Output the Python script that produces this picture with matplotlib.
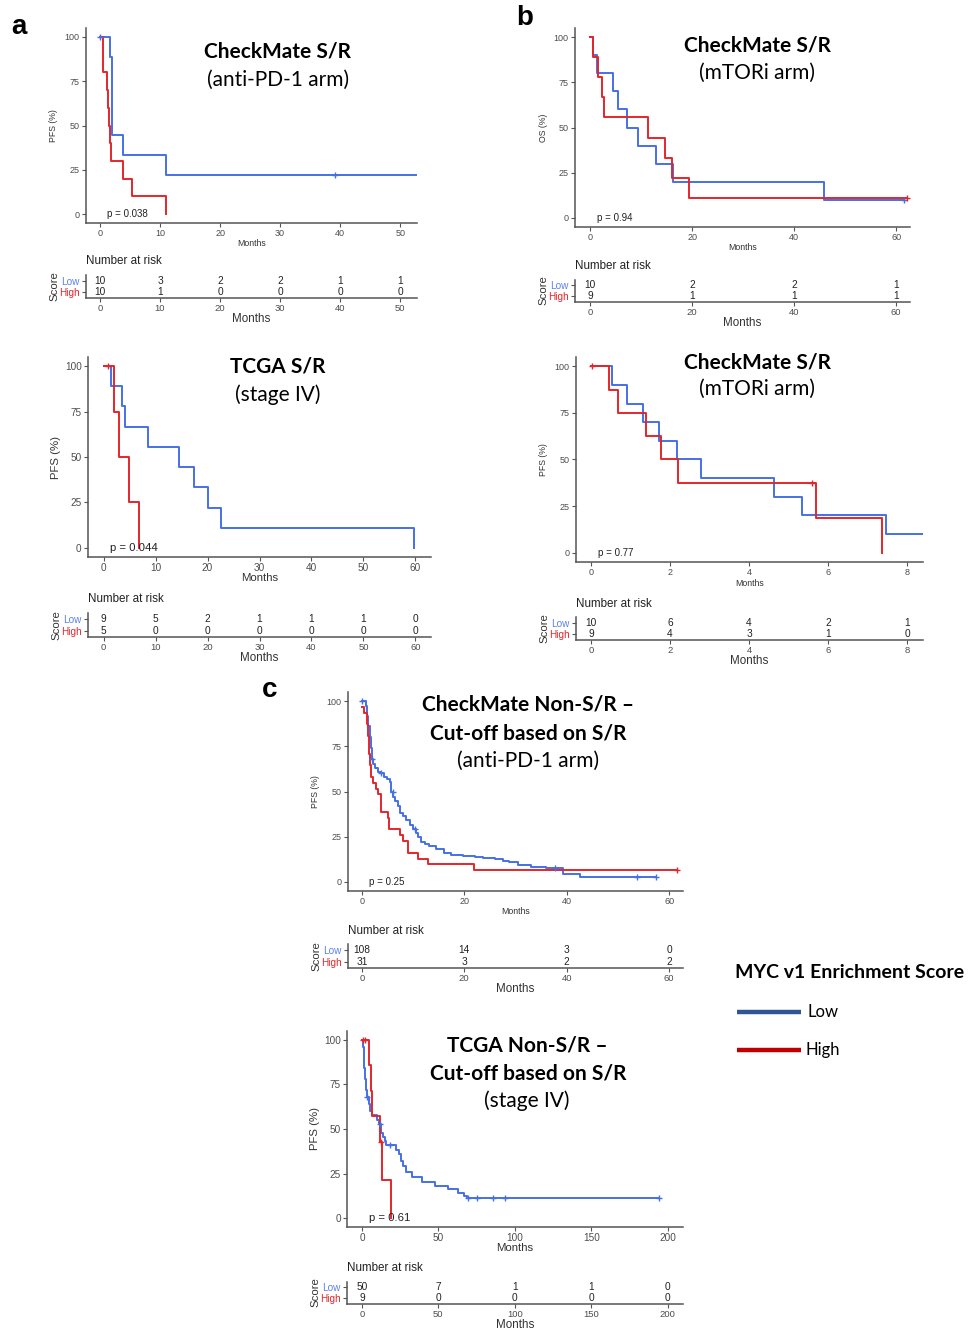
import numpy as np
import matplotlib.pyplot as plt

plt.rcParams['font.family'] = ['Liberation Sans', 'DejaVu Sans']

W, H = 973, 1331
BLUE = '#4470E6'
RED = '#E3262B'
TITLE_FONT = ['Lato', 'DejaVu Sans']

# ---- a: CheckMate S/R (anti-PD-1 arm), PFS
a1_low_t = [0, 1.6, 2.0, 3.8, 11.0]
a1_low_s = [100, 88.9, 44.4, 33.3, 22.2]
a1_low_end = 53
a1_low_cens = [0.05, 39.2]
a1_high_t = [0, 0.5, 1.1, 1.3, 1.45, 1.6, 1.8, 3.8, 5.4, 11.0]
a1_high_s = [100, 80, 70, 60, 50, 40, 30, 20, 10, 0]
a1_high_end = 11.0
a1_high_cens = []
a1_ticks = [0, 10, 20, 30, 40, 50]
a1_risk_low = [10, 3, 2, 2, 1, 1]
a1_risk_high = [10, 1, 0, 0, 0, 0]

# ---- a: TCGA S/R (stage IV), PFS
a2_low_t = [0, 1.4, 3.5, 4.2, 8.6, 14.6, 17.4, 20.0, 22.5, 59.8]
a2_low_s = [100, 88.9, 77.8, 66.7, 55.6, 44.4, 33.3, 22.2, 11.1, 0]
a2_low_end = 59.8
a2_low_cens = []
a2_high_t = [0, 2.0, 3.0, 4.8, 6.8]
a2_high_s = [100, 75, 50, 25, 0]
a2_high_end = 6.8
a2_high_cens = [0.8]
a2_ticks = [0, 10, 20, 30, 40, 50, 60]
a2_risk_low = [9, 5, 2, 1, 1, 1, 0]
a2_risk_high = [5, 0, 0, 0, 0, 0, 0]

# ---- b: CheckMate S/R (mTORi arm), OS
b1_low_t = [0, 0.65, 1.3, 4.6, 5.4, 7.3, 9.4, 12.9, 16.2, 45.8]
b1_low_s = [100, 90, 80, 70, 60, 50, 40, 30, 20, 10]
b1_low_end = 61.5
b1_low_cens = [61.5]
b1_high_t = [0, 0.65, 1.5, 2.3, 2.75, 11.3, 14.7, 16.0, 19.3]
b1_high_s = [100, 88.9, 77.8, 66.7, 55.6, 44.4, 33.3, 22.2, 11.1]
b1_high_end = 62.2
b1_high_cens = [62.2]
b1_ticks = [0, 20, 40, 60]
b1_risk_low = [10, 2, 2, 1]
b1_risk_high = [9, 1, 1, 1]

# ---- b: CheckMate S/R (mTORi arm), PFS
b2_low_t = [0, 0.52, 0.92, 1.31, 1.71, 2.17, 2.79, 4.63, 5.34, 7.47]
b2_low_s = [100, 90, 80, 70, 60, 50, 40, 30, 20, 10]
b2_low_end = 8.5
b2_low_cens = []
b2_high_t = [0, 0.46, 0.69, 1.39, 1.77, 2.2, 5.69, 7.36]
b2_high_s = [100, 87.5, 75, 62.5, 50, 37.5, 18.75, 0]
b2_high_end = 7.36
b2_high_cens = [0.02, 5.59]
b2_ticks = [0, 2, 4, 6, 8]
b2_risk_low = [10, 6, 4, 2, 1]
b2_risk_high = [9, 4, 3, 1, 0]

# ---- c: CheckMate Non-S/R (anti-PD-1 arm), PFS
c1_low_t = [0, 0.9, 1.1, 1.3, 1.5, 1.7, 1.9, 2.1, 2.6, 3.2, 3.8, 4.4, 5.0, 5.5,
            5.7, 6.1, 6.5, 7.0, 7.4, 8.0, 8.7, 9.4, 10.0, 10.6, 11.0, 11.6, 12.4,
            13.2, 14.5, 16.1, 17.5, 19.7, 22.0, 23.6, 26.0, 27.5, 28.8, 30.5,
            33.0, 36.0, 39.3, 42.6]
c1_low_s = [100, 97, 92, 86, 80, 74, 68, 65, 63, 61, 60, 58, 57, 55,
            50, 47, 45, 42, 38, 36.7, 34.4, 31.7, 29, 27, 25, 22, 21,
            20, 18, 16, 15, 14.6, 14, 13.2, 12.5, 11.8, 11.3, 9.5,
            8.5, 7.5, 4.5, 2.8]
c1_low_end = 57.5
c1_low_cens = [0.05, 1.96, 3.8, 6.0, 10.3, 37.7, 53.7, 57.5]
c1_high_t = [0, 0.5, 1.0, 1.2, 1.4, 1.6, 1.8, 2.2, 2.8, 3.2, 3.8, 5.1, 5.4,
             7.4, 8.0, 9.1, 11.0, 12.9, 21.9]
c1_high_s = [96.8, 93.5, 87.1, 80.6, 71.0, 64.5, 58.1, 54.8, 51.6, 48.4, 38.7,
             35.5, 29.0, 25.8, 22.6, 16.1, 12.9, 9.7, 6.5]
c1_high_end = 61.5
c1_high_cens = [61.5]
c1_ticks = [0, 20, 40, 60]
c1_risk_low = [108, 14, 3, 0]
c1_risk_high = [31, 3, 2, 2]

# ---- c: TCGA Non-S/R (stage IV), PFS
c2_low_t = [0, 0.5, 1, 1.5, 2, 2.5, 3, 4.5, 5.5, 6.5, 9.5, 11, 12.5, 13.5, 15,
            16, 22, 24, 25.5, 27, 28.5, 33, 39, 48, 56, 63, 67, 69]
c2_low_s = [100, 96, 90, 84, 78, 72, 68, 64, 60, 57.6, 55.3, 52.9, 48, 45.6,
            43, 41, 38.4, 35.8, 32, 29.4, 25.6, 23, 20.4, 17.9, 16.1, 14, 12.5, 11]
c2_low_end = 194
c2_low_cens = [3.3, 12.0, 18.3, 69.5, 75, 85.8, 93.5, 194]
c2_high_t = [0, 4.6, 5.6, 6.3, 12.0, 13.3, 18.7]
c2_high_s = [100, 85.7, 71.4, 57.1, 42.9, 21.4, 0]
c2_high_end = 18.7
c2_high_cens = [0.7, 2.3, 12.3]
c2_ticks = [0, 50, 100, 150, 200]
c2_risk_low = [50, 7, 1, 1, 0]
c2_risk_high = [9, 0, 0, 0, 0]

fig = plt.figure(figsize=(W / 100, H / 100), dpi=100)


def rect(l, t, r, b):
    return [l / W, 1 - b / H, (r - l) / W, (b - t) / H]


def ftext(x, y, s, **kw):
    kw.setdefault('ha', 'center')
    kw.setdefault('va', 'center')
    fig.text(x / W, 1 - y / H, s, **kw)


def step_at(t, s, x):
    i = np.searchsorted(t, x, side='right') - 1
    return np.asarray(s)[i]


def style_axis(ax, fs):
    for side in ('top', 'right'):
        ax.spines[side].set_visible(False)
    for side in ('left', 'bottom'):
        ax.spines[side].set_color('#555555')
        ax.spines[side].set_linewidth(1.1)
    ax.tick_params(length=3, width=0.8, color='#555555', labelsize=fs,
                   labelcolor='#4D4D4D', pad=1.5)


def km_panel(main_box, risk_box, xlim, ticks, low, high, risk_low, risk_high,
             ylabel, pval, titles, big=False):
    fs_tick = 7.2 if big else 6.5
    fs_lab = 8.2 if big else 6.3
    fs_p = 8.2 if big else 7.0
    l, t, r, b = main_box
    ax = fig.add_axes(rect(*main_box))
    for (tt, ss, end, cens), col in ((low, BLUE), (high, RED)):
        ax.step(np.r_[tt, end], np.r_[ss, ss[-1]], where='post', color=col,
                lw=1.4, zorder=3)
        if cens:
            ax.plot(cens, step_at(tt, ss, cens), '+', color=col, ms=5,
                    mew=1.0, zorder=4)
    ax.set_xlim(xlim)
    ax.set_ylim(-5, 105)
    ax.set_xticks(ticks)
    ax.set_yticks([0, 25, 50, 75, 100])
    style_axis(ax, fs_tick)
    ax.text(ticks[-1] * 0.022, 0, pval, ha='left', va='center', fontsize=fs_p,
            color='#222222')
    ftext((l + r) / 2, b + 21, 'Months', fontsize=fs_lab, color='#333333')
    ftext(l - 32, (t + b) / 2, ylabel, fontsize=fs_lab, rotation=90,
          color='#333333')
    for (x, y, s, w) in titles:
        ftext(x, y, s, fontsize=15, fontweight=w, family=TITLE_FONT,
              color='black')

    l, t, r, b = risk_box
    rx = fig.add_axes(rect(*risk_box))
    rx.set_xlim(xlim)
    rx.set_ylim(-0.5, 1.5)
    for x, n_low, n_high in zip(ticks, risk_low, risk_high):
        rx.text(x, 1, str(n_low), ha='center', va='center', fontsize=7.3,
                color='#222222')
        rx.text(x, 0, str(n_high), ha='center', va='center', fontsize=7.3,
                color='#222222')
    rx.set_xticks(ticks)
    rx.set_yticks([0, 1])
    rx.set_yticklabels(['High', 'Low'])
    style_axis(rx, 6.8)
    rx.tick_params(axis='y', labelsize=7.2)
    lbls = rx.get_yticklabels()
    lbls[0].set_color(RED)
    lbls[1].set_color('#5C80F0')
    ftext(l, t - 13.5, 'Number at risk', fontsize=8.4, ha='left',
          color='#222222')
    ftext((l + r) / 2, b + 21, 'Months', fontsize=8.4, color='#333333')
    ftext(l - 32, (t + b) / 2, 'Score', fontsize=8.2, rotation=90,
          color='#333333')


km_panel((86, 28, 417, 223), (86, 275, 417, 298), (-2.33, 52.8), a1_ticks,
         (a1_low_t, a1_low_s, a1_low_end, a1_low_cens),
         (a1_high_t, a1_high_s, a1_high_end, a1_high_cens),
         a1_risk_low, a1_risk_high, 'PFS (%)', 'p = 0.038',
         [(278, 52, 'CheckMate S/R', 'bold'), (278, 80, '(anti-PD-1 arm)', 'normal')])

km_panel((88, 357, 431, 557), (88, 613, 431, 637), (-3, 63), a2_ticks,
         (a2_low_t, a2_low_s, a2_low_end, a2_low_cens),
         (a2_high_t, a2_high_s, a2_high_end, a2_high_cens),
         a2_risk_low, a2_risk_high, 'PFS (%)', 'p = 0.044',
         [(278, 367, 'TCGA S/R', 'bold'), (278, 395, '(stage IV)', 'normal')],
         big=True)

km_panel((575, 28, 910, 227), (575, 279.5, 910, 301.5), (-2.94, 62.7), b1_ticks,
         (b1_low_t, b1_low_s, b1_low_end, b1_low_cens),
         (b1_high_t, b1_high_s, b1_high_end, b1_high_cens),
         b1_risk_low, b1_risk_high, 'OS (%)', 'p = 0.94',
         [(757, 46, 'CheckMate S/R', 'bold'), (757, 73, '(mTORi arm)', 'normal')])

km_panel((576, 357, 923, 562), (576, 617.5, 923, 639.5), (-0.38, 8.4), b2_ticks,
         (b2_low_t, b2_low_s, b2_low_end, b2_low_cens),
         (b2_high_t, b2_high_s, b2_high_end, b2_high_cens),
         b2_risk_low, b2_risk_high, 'PFS (%)', 'p = 0.77',
         [(757, 362, 'CheckMate S/R', 'bold'), (757, 389, '(mTORi arm)', 'normal')])

km_panel((348, 692, 683, 891), (348, 944, 683, 968), (-2.7, 62.7), c1_ticks,
         (c1_low_t, c1_low_s, c1_low_end, c1_low_cens),
         (c1_high_t, c1_high_s, c1_high_end, c1_high_cens),
         c1_risk_low, c1_risk_high, 'PFS (%)', 'p = 0.25',
         [(528, 705, 'CheckMate Non-S/R \u2013', 'bold'),
          (528, 733, 'Cut-off based on S/R', 'bold'),
          (528, 761, '(anti-PD-1 arm)', 'normal')])

km_panel((347, 1031, 683, 1227), (347, 1281.5, 683, 1303.5), (-9.8, 210), c2_ticks,
         (c2_low_t, c2_low_s, c2_low_end, c2_low_cens),
         (c2_high_t, c2_high_s, c2_high_end, c2_high_cens),
         c2_risk_low, c2_risk_high, 'PFS (%)', 'p = 0.61',
         [(527, 1045, 'TCGA Non-S/R \u2013', 'bold'),
          (528, 1073, 'Cut-off based on S/R', 'bold'),
          (527, 1101, '(stage IV)', 'normal')],
         big=True)

# panel letters
for x, y, s in ((19, 27, 'a'), (525, 18, 'b'), (270, 690, 'c')):
    ftext(x, y, s, fontsize=20, fontweight='bold')

# legend
ftext(850, 973, 'MYC v1 Enrichment Score', fontsize=14, fontweight='bold',
      family=TITLE_FONT)
leg = fig.add_axes(rect(730, 995, 973, 1065))
leg.set_xlim(730, 973)
leg.set_ylim(1065, 995)
leg.axis('off')
leg.plot([737, 801], [1012, 1012], color='#2F5597', lw=3.2, solid_capstyle='butt')
leg.plot([737, 801], [1050, 1050], color='#C00000', lw=3.2, solid_capstyle='butt')
leg.text(808, 1012, 'Low', ha='left', va='center', fontsize=12, family=TITLE_FONT)
leg.text(806, 1050, 'High', ha='left', va='center', fontsize=12, family=TITLE_FONT)

fig.savefig('out.png', dpi=100)
